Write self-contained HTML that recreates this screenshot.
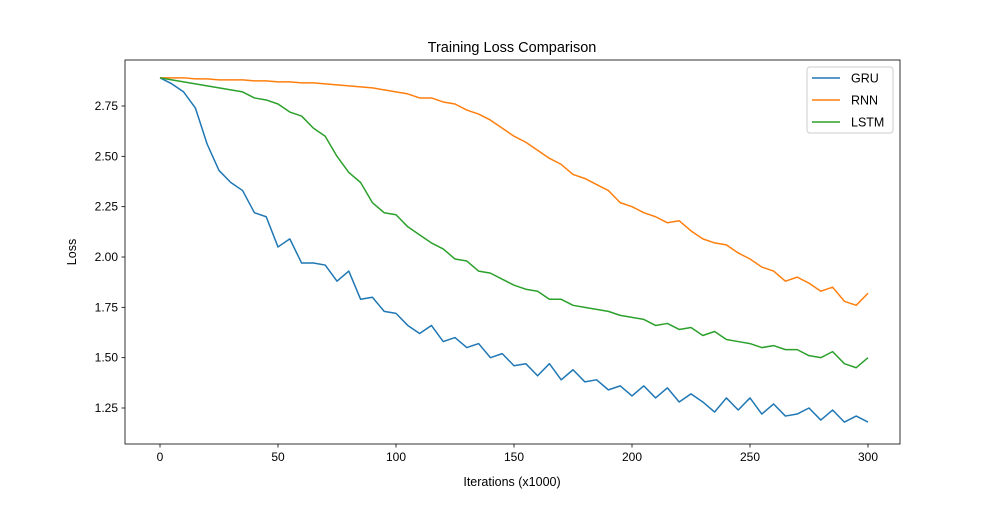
<!DOCTYPE html>
<html><head><meta charset="utf-8"><style>
body{margin:0;background:#fff;}
svg{font-family:"Liberation Sans","DejaVu Sans",sans-serif;}
</style></head><body>
<svg id="chart" width="1000" height="500"></svg>
<script>
const iterations=[0,5,10,15,20,25,30,35,40,45,50,55,60,65,70,75,80,85,90,95,100,105,110,115,120,125,130,135,140,145,150,155,160,165,170,175,180,185,190,195,200,205,210,215,220,225,230,235,240,245,250,255,260,265,270,275,280,285,290,295,300];
const gruLoss=[2.89,2.86,2.82,2.74,2.56,2.43,2.37,2.33,2.22,2.20,2.05,2.09,1.97,1.97,1.96,1.88,1.93,1.79,1.80,1.73,1.72,1.66,1.62,1.66,1.58,1.60,1.55,1.57,1.50,1.52,1.46,1.47,1.41,1.47,1.39,1.44,1.38,1.39,1.34,1.36,1.31,1.36,1.30,1.35,1.28,1.32,1.28,1.23,1.30,1.24,1.30,1.22,1.27,1.21,1.22,1.25,1.19,1.24,1.18,1.21,1.18];
const rnnLoss=[2.89,2.89,2.89,2.885,2.885,2.88,2.88,2.88,2.875,2.875,2.87,2.87,2.865,2.865,2.86,2.855,2.85,2.845,2.84,2.83,2.82,2.81,2.79,2.79,2.77,2.76,2.73,2.71,2.68,2.64,2.60,2.57,2.53,2.49,2.46,2.41,2.39,2.36,2.33,2.27,2.25,2.22,2.20,2.17,2.18,2.13,2.09,2.07,2.06,2.02,1.99,1.95,1.93,1.88,1.90,1.87,1.83,1.85,1.78,1.76,1.82];
const lstmLoss=[2.89,2.88,2.87,2.86,2.85,2.84,2.83,2.82,2.79,2.78,2.76,2.72,2.70,2.64,2.60,2.50,2.42,2.37,2.27,2.22,2.21,2.15,2.11,2.07,2.04,1.99,1.98,1.93,1.92,1.89,1.86,1.84,1.83,1.79,1.79,1.76,1.75,1.74,1.73,1.71,1.70,1.69,1.66,1.67,1.64,1.65,1.61,1.63,1.59,1.58,1.57,1.55,1.56,1.54,1.54,1.51,1.50,1.53,1.47,1.45,1.50];
const xTicks=[0,50,100,150,200,250,300];
const yTicks=[1.25,1.50,1.75,2.00,2.25,2.50,2.75];
const seriesNames=["GRU","RNN","LSTM"];
const colors=["#1f77b4","#ff7f0e","#2ca02c"];
const ns="http://www.w3.org/2000/svg";
const svg=document.getElementById('chart');
const L=125,R=900,T=60,B=444;
const xs=v=>160+v*(868-160)/300;
const ys=v=>408-(v-1.25)*(302/1.5);
function mk(tag,attrs,parent){const e=document.createElementNS(ns,tag);for(const k in attrs)e.setAttribute(k,attrs[k]);(parent||svg).appendChild(e);return e;}
const frame=mk('rect',{x:L,y:T,width:R-L,height:B-T,fill:'none',stroke:'#000','stroke-width':0.8});


xTicks.forEach(t=>{const x=xs(t);
 const l=mk('line',{x1:x,x2:x,y1:B,y2:B+3.5,stroke:'#000','stroke-width':0.8});
 
 
 const tx=mk('text',{x:x,y:B+17,'text-anchor':'middle','font-size':12,fill:'#000'});tx.textContent=t;
 
 });
yTicks.forEach(t=>{const y=ys(t);
 const l=mk('line',{x1:L-3.5,x2:L,y1:y,y2:y,stroke:'#000','stroke-width':0.8});
 
 
 const tx=mk('text',{x:L-7,y:y+4,'text-anchor':'end','font-size':12,fill:'#000'});tx.textContent=t.toFixed(2);
 
 });
[gruLoss,rnnLoss,lstmLoss].forEach((arr,i)=>{
 const p=mk('polyline',{points:arr.map((v,j)=>xs(iterations[j])+','+ys(v)).join(' '),fill:'none',stroke:colors[i],'stroke-width':1.5,'stroke-linejoin':'round'});
 
 });
const title=mk('text',{x:512,y:52,'text-anchor':'middle','font-size':14.5});title.textContent='Training Loss Comparison';


const xl=mk('text',{x:512,y:486,'text-anchor':'middle','font-size':12.5});xl.textContent='Iterations (x1000)';


const yl=mk('text',{x:0,y:0,'text-anchor':'middle','font-size':12.5,transform:'translate(76,252) rotate(-90)'});yl.textContent='Loss';


const lg=mk('rect',{x:807,y:67,width:86,height:66,rx:3,fill:'#fff',stroke:'#ccc','stroke-width':1});


seriesNames.forEach((n,i)=>{const y=78+i*22;
 const l=mk('line',{x1:812,x2:840,y1:y,y2:y,stroke:colors[i],'stroke-width':1.5});
 
 
 const t=mk('text',{x:851,y:y+4.5,'font-size':12.5});t.textContent=n;
 
 });
</script>
</body></html>
